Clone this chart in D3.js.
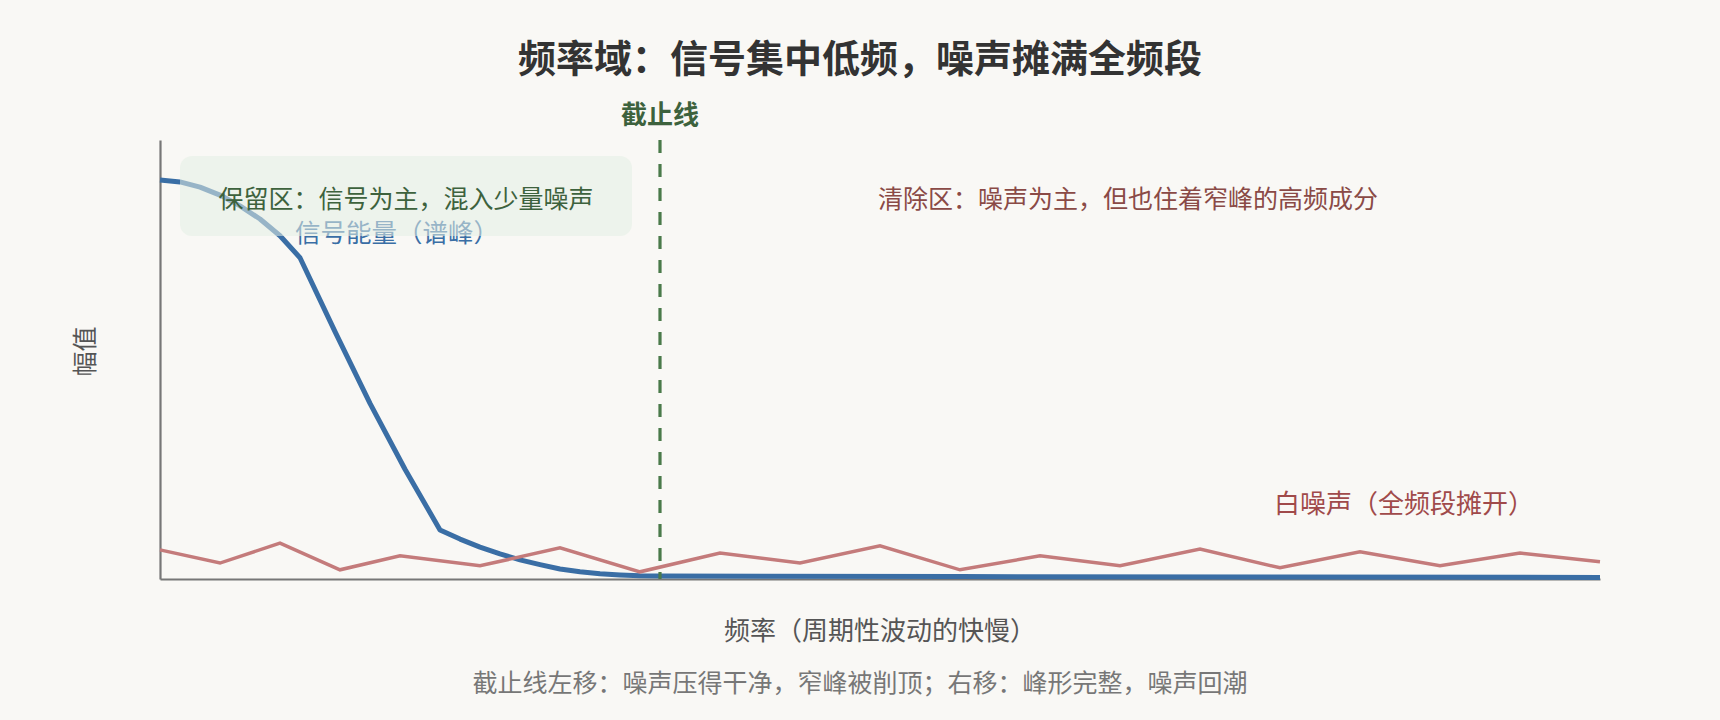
<!DOCTYPE html>
<html>
<head>
<meta charset="utf-8">
<script src="https://cdn.jsdelivr.net/npm/d3@7/dist/d3.min.js"></script>
<style>
  html, body { margin: 0; padding: 0; background: #f9f8f5; }
  svg { display: block; }
  text { font-family: "Noto Sans CJK SC", "Noto Sans", sans-serif; }
</style>
</head>
<body>
<svg id="chart" width="1720" height="720"></svg>
<script>
// ---- data ----
const signalFreq = [0, 5, 10, 15, 20, 25, 30, 35, 43.75, 52.5, 61.25, 70, 75, 80, 85, 90, 95, 100, 105, 110, 115, 120, 125, 200, 280, 360];
const signalAmp  = [1.0, 0.995, 0.982, 0.962, 0.935, 0.902, 0.86, 0.805, 0.62, 0.44, 0.275, 0.123, 0.1, 0.08, 0.063, 0.048, 0.036, 0.025, 0.018, 0.013, 0.01, 0.008, 0.0075, 0.006, 0.005, 0.004];
const noiseFreq  = [0, 15, 30, 45, 60, 80, 100, 120, 140, 160, 180, 200, 220, 240, 260, 280, 300, 320, 340, 360];
const noiseAmp   = [0.073, 0.04, 0.09, 0.023, 0.058, 0.033, 0.078, 0.018, 0.065, 0.04, 0.083, 0.023, 0.058, 0.033, 0.075, 0.028, 0.068, 0.033, 0.065, 0.043];
const cutoffFreq = 125;
const freqDomain = [0, 360];
const ampDomain  = [0, 1.1];

const titleText   = "频率域：信号集中低频，噪声摊满全频段";
const cutoffLabel = "截止线";
const keepText    = "保留区：信号为主，混入少量噪声";
const removeText  = "清除区：噪声为主，但也住着窄峰的高频成分";
const signalLabel = "信号能量（谱峰）";
const noiseLabel  = "白噪声（全频段摊开）";
const xLabel      = "频率（周期性波动的快慢）";
const yLabel      = "幅值";
const footText    = "截止线左移：噪声压得干净，窄峰被削顶；右移：峰形完整，噪声回潮";

// ---- layout ----
const svg = d3.select("#chart");
const W = 1720;
const plot = { left: 160, right: 1600, top: 140, bottom: 579 };

const x = d3.scaleLinear().domain(freqDomain).range([plot.left, plot.right]);
const y = d3.scaleLinear().domain(ampDomain).range([plot.bottom, plot.top]);

// title
svg.append("text")
  .attr("x", W / 2).attr("y", 55)
  .attr("text-anchor", "middle").attr("dominant-baseline", "central")
  .attr("font-size", 38).attr("font-weight", 700).attr("fill", "#333")
  .text(titleText);

// axes
const xAxis = svg.append("g").attr("transform", `translate(0,${plot.bottom})`)
  .call(d3.axisBottom(x).tickValues([]).tickSizeOuter(0));
const yAxis = svg.append("g").attr("transform", `translate(${plot.left},0)`)
  .call(d3.axisLeft(y).tickValues([]).tickSizeOuter(0));
[xAxis, yAxis].forEach(g => g.select(".domain").attr("stroke", "#777").attr("stroke-width", 2.2));

// signal label (under the box)
svg.append("text")
  .attr("x", 397).attr("y", 230)
  .attr("text-anchor", "middle").attr("dominant-baseline", "central")
  .attr("font-size", 25.5).attr("fill", "#3a6ea5")
  .text(signalLabel);

// signal line
const line = d3.line().x(d => x(d[0])).y(d => y(d[1]));
svg.append("path")
  .datum(signalFreq.map((f, i) => [f, signalAmp[i]]))
  .attr("d", line)
  .attr("fill", "none").attr("stroke", "#3a6ea5").attr("stroke-width", 5)
  .attr("stroke-linejoin", "round");

// noise line
svg.append("path")
  .datum(noiseFreq.map((f, i) => [f, noiseAmp[i]]))
  .attr("d", line)
  .attr("fill", "none").attr("stroke", "#c47b7b").attr("stroke-width", 3.5)
  .attr("stroke-linejoin", "miter");

// cutoff line
svg.append("line")
  .attr("x1", x(cutoffFreq)).attr("x2", x(cutoffFreq))
  .attr("y1", y(ampDomain[1])).attr("y2", y(0))
  .attr("stroke", "#4a7a4a").attr("stroke-width", 3.2)
  .attr("stroke-dasharray", "13 11");

svg.append("text")
  .attr("x", x(cutoffFreq)).attr("y", 112)
  .attr("text-anchor", "middle").attr("dominant-baseline", "central")
  .attr("font-size", 26).attr("font-weight", 700).attr("fill", "#3d623d")
  .text(cutoffLabel);

// keep-zone box
svg.append("rect")
  .attr("x", 180).attr("y", 156).attr("width", 452).attr("height", 80)
  .attr("rx", 12).attr("ry", 12)
  .attr("fill", "#e4eee4").attr("fill-opacity", 0.55);

svg.append("text")
  .attr("x", 406).attr("y", 197)
  .attr("text-anchor", "middle").attr("dominant-baseline", "central")
  .attr("font-size", 25).attr("fill", "#3d623d")
  .text(keepText);

// remove-zone text
svg.append("text")
  .attr("x", 1128).attr("y", 197)
  .attr("text-anchor", "middle").attr("dominant-baseline", "central")
  .attr("font-size", 25).attr("fill", "#8a4a46")
  .text(removeText);

// noise label
svg.append("text")
  .attr("x", 1404).attr("y", 501)
  .attr("text-anchor", "middle").attr("dominant-baseline", "central")
  .attr("font-size", 26).attr("fill", "#a04a4a")
  .text(noiseLabel);

// axis labels
svg.append("text")
  .attr("x", (plot.left + plot.right) / 2).attr("y", 628)
  .attr("text-anchor", "middle").attr("dominant-baseline", "central")
  .attr("font-size", 26).attr("fill", "#555")
  .text(xLabel);

svg.append("text")
  .attr("transform", `translate(83,${(plot.top + plot.bottom) / 2 - 8}) rotate(-90)`)
  .attr("text-anchor", "middle").attr("dominant-baseline", "central")
  .attr("font-size", 25).attr("fill", "#555")
  .text(yLabel);

// footnote
svg.append("text")
  .attr("x", W / 2).attr("y", 681)
  .attr("text-anchor", "middle").attr("dominant-baseline", "central")
  .attr("font-size", 25).attr("fill", "#777")
  .text(footText);
</script>
</body>
</html>
